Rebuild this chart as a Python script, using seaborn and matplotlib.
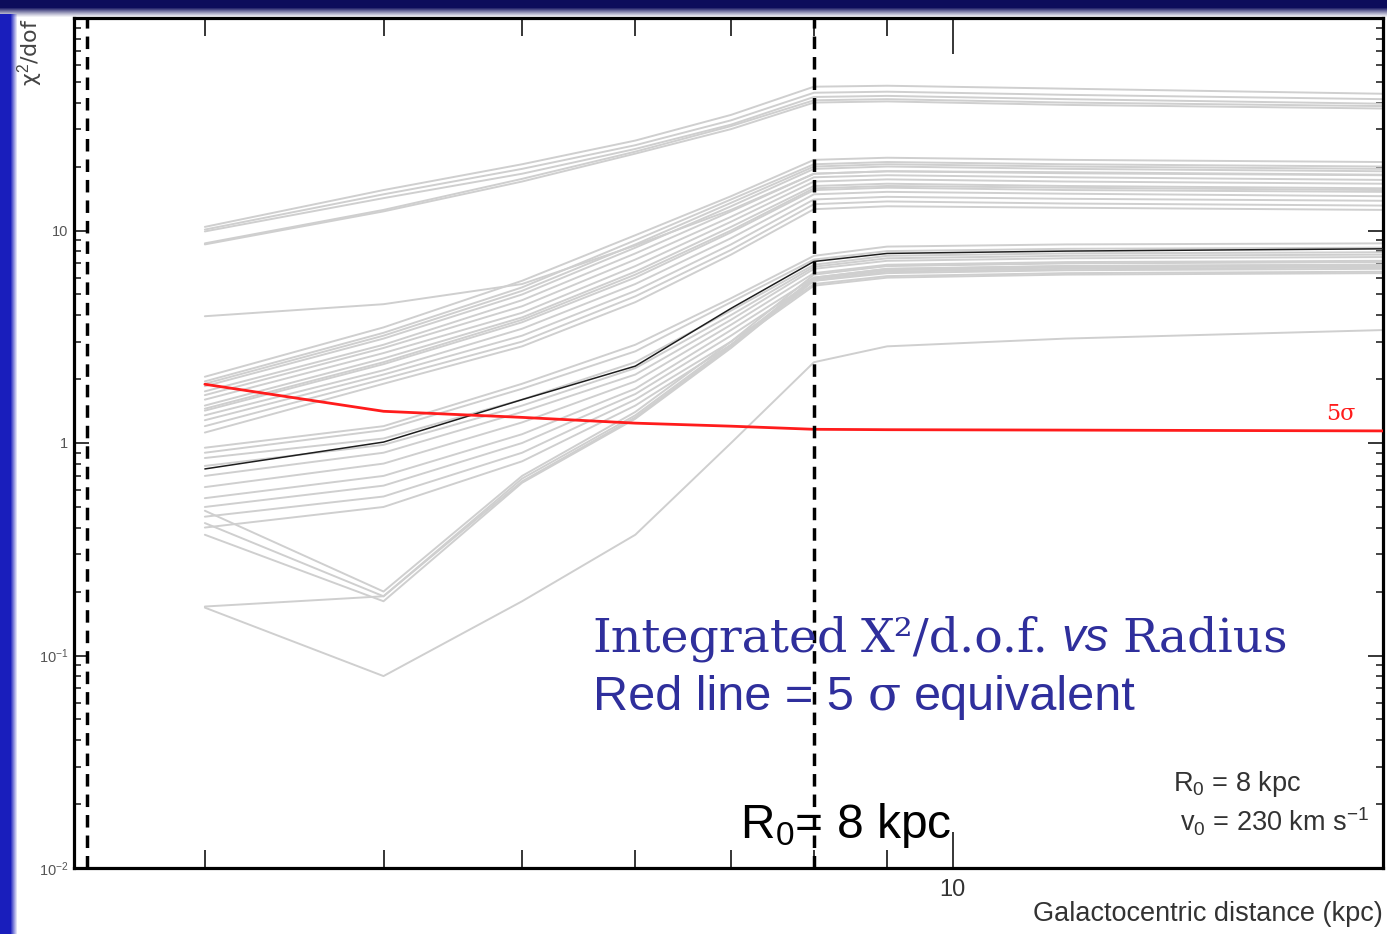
import numpy as np
import pandas as pd
import matplotlib
matplotlib.use("Agg")
import matplotlib.pyplot as plt
import matplotlib.ticker as mticker
import seaborn as sns

# ---------------- data ----------------
R = [3, 4, 5, 6, 7, 8, 9, 12, 20]  # Galactocentric distance (kpc)

top_group = [
    [10.4, 15.5, 20.5, 26.5, 35.0, 47.5, 48.0, 46.5, 44.0],
    [10.1, 14.8, 19.5, 25.2, 33.0, 44.5, 45.0, 43.5, 41.5],
    [9.9, 14.2, 18.5, 24.2, 31.5, 42.5, 43.0, 41.5, 39.5],
    [8.7, 12.5, 17.5, 23.5, 31.0, 41.0, 41.5, 40.0, 38.5],
    [8.6, 12.3, 17.0, 23.0, 30.0, 40.0, 40.5, 39.0, 37.5],
]
single_line = [3.95, 4.5, 5.6, 8.5, 12.5, 18.5, 19.0, 18.8, 18.3]
upper_band = [
    [2.05, 3.5, 5.8, 9.5, 14.5, 21.5, 22.0, 21.5, 21.0],
    [1.95, 3.3, 5.4, 9.0, 14.0, 20.5, 21.0, 20.5, 20.0],
    [1.90, 3.2, 5.2, 8.6, 13.5, 20.0, 20.5, 20.0, 19.5],
    [1.85, 3.1, 5.0, 8.3, 13.0, 19.5, 20.0, 19.5, 19.0],
    [1.75, 2.9, 4.7, 7.8, 12.3, 18.5, 19.0, 18.6, 18.2],
    [1.68, 2.8, 4.4, 7.3, 11.6, 17.8, 18.2, 17.8, 17.3],
    [1.60, 2.65, 4.1, 6.8, 11.0, 17.0, 17.4, 17.0, 16.6],
    [1.50, 2.5, 3.9, 6.4, 10.4, 16.2, 16.6, 16.2, 15.8],
    [1.45, 2.4, 3.8, 6.2, 10.0, 15.8, 16.2, 15.9, 15.5],
    [1.42, 2.35, 3.7, 6.0, 9.8, 15.5, 15.9, 15.5, 15.2],
    [1.35, 2.2, 3.45, 5.6, 9.2, 14.8, 15.2, 14.9, 14.5],
    [1.28, 2.1, 3.2, 5.2, 8.6, 14.0, 14.4, 14.1, 13.8],
    [1.20, 2.0, 3.0, 4.9, 8.1, 13.3, 13.7, 13.4, 13.1],
    [1.12, 1.9, 2.85, 4.6, 7.7, 12.6, 13.0, 12.8, 12.5],
]
lower_band = [
    [0.95, 1.2, 1.9, 2.9, 4.8, 7.6, 8.4, 8.6, 8.7],
    [0.90, 1.15, 1.8, 2.7, 4.6, 7.3, 8.0, 8.2, 8.3],
    [0.85, 1.05, 1.6, 2.4, 4.2, 6.9, 7.6, 7.8, 7.9],
    [0.78, 0.98, 1.5, 2.25, 4.0, 6.75, 7.4, 7.6, 7.7],
    [0.70, 0.9, 1.4, 2.1, 3.8, 6.6, 7.2, 7.4, 7.5],
    [0.62, 0.8, 1.25, 1.95, 3.6, 6.3, 6.9, 7.1, 7.2],
    [0.55, 0.7, 1.1, 1.8, 3.4, 6.0, 6.6, 6.8, 6.9],
    [0.50, 0.63, 1.0, 1.7, 3.2, 5.8, 6.3, 6.5, 6.6],
    [0.45, 0.56, 0.9, 1.6, 3.0, 5.6, 6.1, 6.3, 6.4],
    [0.40, 0.5, 0.82, 1.5, 2.9, 5.5, 6.0, 6.2, 6.3],
]
steep_group = [
    [0.48, 0.20, 0.70, 1.40, 3.0, 6.2, 6.8, 7.0, 7.1],
    [0.42, 0.19, 0.68, 1.35, 2.9, 6.0, 6.6, 6.8, 6.9],
    [0.37, 0.18, 0.65, 1.30, 2.8, 5.8, 6.4, 6.6, 6.7],
    [0.17, 0.19, 0.66, 1.32, 2.85, 5.9, 6.5, 6.7, 6.8],
]
lowest_line = [0.168, 0.08, 0.18, 0.37, 1.0, 2.4, 2.85, 3.1, 3.4]
best_model = [0.755, 1.01, 1.6, 2.3, 4.3, 7.15, 7.8, 8.0, 8.2]
five_sigma = [1.89, 1.41, 1.32, 1.24, 1.2, 1.16, 1.155, 1.15, 1.14]

R_sun = 8.0
R_inner = 2.48

# ---------------- tables ----------------
gray_sets = top_group + [single_line] + upper_band + lower_band + steep_group + [lowest_line]
rows = []
for i, vals in enumerate(gray_sets):
    for r, v in zip(R, vals):
        rows.append({"R": r, "chi2": v, "model": i})
gray_df = pd.DataFrame(rows)
best_df = pd.DataFrame({"R": R, "chi2": best_model})
sig_df = pd.DataFrame({"R": R, "chi2": five_sigma})

# ---------------- figure ----------------
W, H = 1387, 934
sns.set_style("ticks")
plt.rcParams["font.family"] = ["Liberation Sans", "DejaVu Sans"]
plt.rcParams["mathtext.fontset"] = "custom"
plt.rcParams["mathtext.rm"] = "Liberation Sans"
plt.rcParams["mathtext.it"] = "Liberation Sans:italic"

fig = plt.figure(figsize=(W / 100, H / 100), dpi=100, facecolor="white")

# slide border decoration (blue gradient frame)
bg = fig.add_axes([0, 0, 1, 1], zorder=-5)
bg.set_axis_off()
img = np.ones((H, W, 3))
top_c = np.array([0.05, 0.05, 0.36])
left_c = np.array([0.10, 0.12, 0.74])
for yy in range(17):
    a = 1.0 if yy < 7 else max(0.0, 1 - (yy - 7) / 10.0) ** 1.2
    img[yy, :, :] = img[yy, :, :] * (1 - a) + top_c * a
for xx in range(17):
    a = 1.0 if xx < 10 else max(0.0, 1 - (xx - 10) / 7.0)
    img[14:, xx, :] = img[14:, xx, :] * (1 - a) + left_c * a
bg.imshow(img, aspect="auto", extent=[0, 1, 0, 1])
bg.set_xlim(0, 1)
bg.set_ylim(0, 1)

ax = fig.add_axes([74 / W, 1 - 868 / H, 1309 / W, 850 / H])
ax.set_facecolor("white")

sns.lineplot(data=gray_df, x="R", y="chi2", units="model", estimator=None,
             color="#cfcfcf", lw=1.4, ax=ax, legend=False, zorder=2)
sns.lineplot(data=best_df, x="R", y="chi2", color="#1e1e1e", lw=1.1, ax=ax,
             legend=False, zorder=3)
sns.lineplot(data=sig_df, x="R", y="chi2", color="#ff1c1c", lw=2.0, ax=ax,
             legend=False, zorder=4)

ax.set_xscale("log")
ax.set_yscale("log")
ax.set_xlim(2.43, 20.0)
ax.set_ylim(0.01, 100)

for xv in (R_inner, R_sun):
    ax.axvline(xv, color="black", lw=2.5, ls=(0, (3.6, 2.3)), zorder=5)

# ticks
ax.xaxis.set_major_locator(mticker.FixedLocator([10]))
ax.xaxis.set_major_formatter(mticker.FixedFormatter(["10"]))
ax.xaxis.set_minor_locator(mticker.FixedLocator([3, 4, 5, 6, 7, 8, 9, 20]))
ax.xaxis.set_minor_formatter(mticker.NullFormatter())
ax.yaxis.set_major_locator(mticker.FixedLocator([0.01, 0.1, 1, 10, 100]))
ax.yaxis.set_major_formatter(mticker.FixedFormatter(
    ["10$^{-2}$", "10$^{-1}$", "1", "10", ""]))
ax.yaxis.set_minor_locator(mticker.LogLocator(base=10, subs=np.arange(2, 10)))
ax.yaxis.set_minor_formatter(mticker.NullFormatter())

ax.tick_params(axis="x", which="major", direction="in", length=26, width=1.3,
               top=True, bottom=True, labelsize=17, labelcolor="#333333", pad=8)
ax.tick_params(axis="x", which="minor", direction="in", length=13, width=1.3,
               top=True, bottom=True)
ax.tick_params(axis="y", which="major", direction="in", length=11, width=1.3,
               left=True, right=True, labelsize=10.5, labelcolor="#555555", pad=4)
ax.tick_params(axis="y", which="minor", direction="in", length=5, width=1.2,
               left=True, right=True)
for s in ax.spines.values():
    s.set_linewidth(2.3)
    s.set_color("black")
ax.set_xlabel("")
ax.set_ylabel("")

# 5 sigma label
ax.text(18.7, 1.37, "5σ", color="#ff1c1c", fontsize=16, ha="center", va="center",
        family=["DejaVu Serif"])

# axis titles as in the slide
fig.text(1383 / W, 1 - 921 / H, "Galactocentric distance (kpc)", ha="right",
         va="baseline", fontsize=19.5, color="#333333")
fig.text(30 / W, 1 - 52 / H, "χ$^2$/dof", rotation=90, ha="center", va="center",
         fontsize=16, color="#444444", family=["DejaVu Sans"])

# parameter box
fig.text(1173 / W, 1 - 791 / H, "R$_0$ = 8 kpc", ha="left", va="baseline",
         fontsize=19.5, color="#333333")
fig.text(1180 / W, 1 - 832 / H, "v$_0$ = 230 km s$^{-1}$", ha="left", va="baseline",
         fontsize=19.5, color="#333333")

# big overlaid annotations
fig.canvas.draw()
renderer = fig.canvas.get_renderer()
blue = "#2f2f9c"


def place_pieces(pieces, x0, y0, target_w):
    def draw(scale):
        arts = []
        x = x0
        for s, kw in pieces:
            if s == " ":
                x += kw["fontsize"] * scale * 100 / 72 * 0.28
                continue
            k = dict(kw)
            k["fontsize"] = kw["fontsize"] * scale
            t = fig.text(x / W, 1 - y0 / H, s, ha="left", va="baseline",
                         color=k.pop("color", blue), **k)
            bb = t.get_window_extent(renderer)
            x += bb.width
            arts.append(t)
        return arts, x - x0
    arts, w = draw(1.0)
    for a in arts:
        a.remove()
    draw(target_w / w)


serif = ["DejaVu Serif"]
place_pieces([
    ("Integrated", dict(fontsize=32, family=serif)),
    (" ", dict(fontsize=32)),
    ("X²/d.o.f.", dict(fontsize=32, family=serif)),
    (" ", dict(fontsize=32)),
    ("vs", dict(fontsize=32, family=["Liberation Sans"], style="italic")),
    (" ", dict(fontsize=32)),
    ("Radius", dict(fontsize=32, family=serif)),
], 592, 651, 696)

place_pieces([
    ("Red line = 5", dict(fontsize=32, family=["Liberation Sans"])),
    (" ", dict(fontsize=32)),
    ("σ", dict(fontsize=32, family=serif)),
    (" ", dict(fontsize=32)),
    ("equivalent", dict(fontsize=32, family=["Liberation Sans"])),
], 593, 710, 544)

fig.text(740 / W, 1 - 838 / H, "R$_0$= 8 kpc", ha="left", va="baseline",
         fontsize=34.5, color="black")

fig.savefig("out.png", dpi=100, facecolor="white")
